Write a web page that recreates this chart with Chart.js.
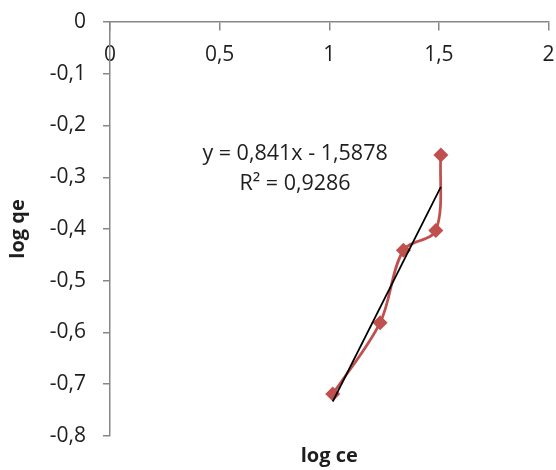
<!DOCTYPE html>
<html>
<head>
<meta charset="utf-8">
<title>log qe vs log ce</title>
<script src="https://cdn.jsdelivr.net/npm/chart.js@4/dist/chart.umd.min.js"></script>
<style>
  html, body { margin: 0; padding: 0; background: #ffffff; }
  #wrap { width: 556px; height: 470px; }
</style>
</head>
<body>
<div id="wrap"><canvas id="c" width="556" height="470"></canvas></div>
<script>
// Measured points: log ce (x) and log qe (y)
const logCe = [1.016, 1.232, 1.338, 1.486, 1.509];
const logQe = [-0.719, -0.581, -0.441, -0.403, -0.257];

// Linear trendline coefficients and fit quality
const slope = 0.841;
const intercept = -1.5878;
const rSquared = 0.9286;

// Axis ranges and steps
const xRange = [0, 2];
const xStep = 0.5;
const yRange = [-0.8, 0];
const yStep = 0.1;

const xTitle = 'log ce';
const yTitle = 'log qe';

const FONT = '"Open Sans", "Liberation Sans", sans-serif';
const AXIS_GREY = '#878787';
const TEXT = '#1e1e1e';
const RED = '#c0504d';

const fmt = v => {
  const r = Math.round(v * 10) / 10;
  if (r === 0) return '0';
  return String(r).replace('.', ',');
};

const measured = logCe.map((x, i) => ({ x, y: logQe[i] }));
const xMin = Math.min(...logCe), xMax = Math.max(...logCe);
const trend = [xMin, xMax].map(x => ({ x, y: slope * x + intercept }));

const eqText = [
  'y = ' + String(slope).replace('.', ',') + 'x - ' + String(Math.abs(intercept)).replace('.', ','),
  'R\u00B2 = ' + String(rSquared).replace('.', ',')
];

// Trendline equation label, anchored in data coordinates
const equationLabel = {
  id: 'equationLabel',
  afterDatasetsDraw(chart) {
    const { ctx, scales } = chart;
    const cx = scales.x.getPixelForValue(0.844);
    const y1 = scales.y.getPixelForValue(-0.255);
    const y2 = scales.y.getPixelForValue(-0.313);
    ctx.save();
    ctx.font = '21.5px ' + FONT;
    ctx.fillStyle = TEXT;
    ctx.textAlign = 'center';
    ctx.textBaseline = 'middle';
    ctx.fillText(eqText[0], cx, y1);
    ctx.fillText(eqText[1], cx, y2);
    ctx.restore();
  }
};

// Keep the plot area fixed by the layout padding alone
const noEdgePadding = s => {
  s.paddingLeft = 0; s.paddingRight = 0; s.paddingTop = 0; s.paddingBottom = 0;
};

new Chart(document.getElementById('c'), {
  type: 'scatter',
  data: {
    datasets: [
      {
        label: 'log qe',
        data: measured,
        showLine: true,
        borderColor: RED,
        backgroundColor: RED,
        borderWidth: 2.75,
        tension: 0.33,
        pointStyle: 'rectRot',
        pointRadius: 7.5,
        pointHoverRadius: 7.5,
        pointBackgroundColor: RED,
        pointBorderColor: RED,
        pointBorderWidth: 0,
        order: 2
      },
      {
        label: 'Linear (log qe)',
        data: trend,
        showLine: true,
        borderColor: '#000000',
        borderWidth: 1.75,
        pointRadius: 0,
        pointHoverRadius: 0,
        tension: 0,
        order: 1
      }
    ]
  },
  options: {
    responsive: false,
    animation: false,
    events: [],
    layout: { padding: { left: 0, top: 22, right: 5, bottom: 0 } },
    plugins: {
      legend: { display: false },
      tooltip: { enabled: false },
      title: { display: false }
    },
    scales: {
      x: {
        type: 'linear',
        position: { y: 0 },
        min: xRange[0],
        max: xRange[1],
        ticks: {
          stepSize: xStep,
          callback: v => fmt(v),
          color: TEXT,
          font: { family: FONT, size: 21 },
          padding: 12,
          maxRotation: 0
        },
        grid: { drawOnChartArea: false, drawTicks: true, tickLength: 8, color: AXIS_GREY, lineWidth: 1.5 },
        border: { display: true, color: AXIS_GREY, width: 1.5 },
        afterFit: noEdgePadding
      },
      x2: {
        type: 'linear',
        position: 'bottom',
        min: xRange[0],
        max: xRange[1],
        ticks: { display: false },
        grid: { display: false },
        border: { display: false },
        title: {
          display: true,
          text: xTitle,
          color: TEXT,
          font: { family: FONT, size: 20, weight: 'bold' },
          padding: { top: 0, bottom: 2 }
        },
        afterFit: s => { s.height = 34; noEdgePadding(s); }
      },
      y: {
        type: 'linear',
        position: 'left',
        min: yRange[0],
        max: yRange[1],
        ticks: {
          stepSize: yStep,
          callback: v => fmt(v),
          color: TEXT,
          font: { family: FONT, size: 21 },
          padding: 17
        },
        grid: { drawOnChartArea: false, drawTicks: true, tickLength: 7, color: AXIS_GREY, lineWidth: 1.5 },
        border: { display: true, color: AXIS_GREY, width: 1.5 },
        title: {
          display: true,
          text: yTitle,
          color: TEXT,
          font: { family: FONT, size: 20, weight: 'bold' },
          padding: { top: 6, bottom: 0 }
        },
        afterFit: s => { s.width = 110; noEdgePadding(s); }
      }
    }
  },
  plugins: [equationLabel]
});
</script>
</body>
</html>
